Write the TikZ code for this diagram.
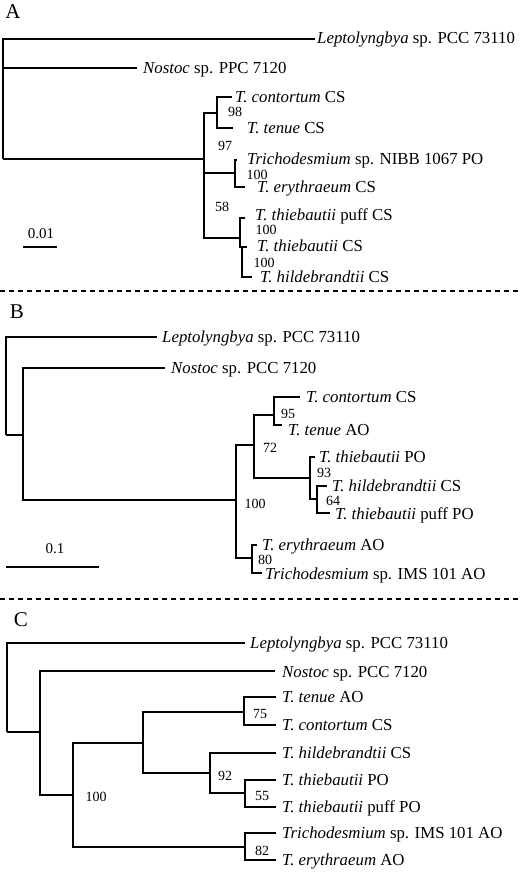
\documentclass[tikz,border=0pt]{standalone}
\usepackage{fontspec}
\setmainfont{Liberation Serif}
\begin{document}
\begin{tikzpicture}[x=1pt,y=-1pt,
  br/.style={line width=2.5pt, line join=miter},
  taxon/.style={anchor=west, inner sep=0pt, text height=11pt, text depth=0pt, font=\fontsize{16.8}{18}\selectfont},
  boot/.style={anchor=center, inner sep=0pt, text height=10pt, text depth=0pt, font=\fontsize{14}{16}\selectfont},
  panel/.style={anchor=center, inner sep=0pt, font=\fontsize{21}{24}\selectfont},
  scalelab/.style={anchor=center, inner sep=0pt, text height=10pt, text depth=0pt, font=\fontsize{15}{17}\selectfont},
  sep/.style={line width=1.4pt, dash pattern=on 5pt off 4pt}]
\useasboundingbox (0,0) rectangle (520,872);

% ---------- Panel A ----------
\node[panel] (lA) at (13,12) {A};
\coordinate (rA) at (3,159);
\coordinate (aLep) at (315,39);
\coordinate (aNos) at (137,68);
\coordinate (a1) at (204,159);
\coordinate (a2) at (217,113);
\coordinate (a3) at (235,173);
\coordinate (a4) at (240,238);
\coordinate (a5) at (242,247);
\coordinate (aCon) at (232,97);
\coordinate (aTen) at (233,128);
\coordinate (aNIBB) at (237,160);
\coordinate (aEry) at (245,187);
\coordinate (aPuff) at (245,218);
\coordinate (aThi) at (247,247);
\coordinate (aHil) at (252,277);
\draw[br] (rA) |- (aLep);
\draw[br] (rA) |- (aNos);
\draw[br] (rA) -- (a1);
\draw[br] (a1) |- (a2);
\draw[br] (a1) |- (a3);
\draw[br] (a1) |- (a4);
\draw[br] (a2) |- (aCon);
\draw[br] (a2) |- (aTen);
\draw[br] (a3) |- (aNIBB);
\draw[br] (a3) |- (aEry);
\draw[br] (a4) |- (aPuff);
\draw[br] (a4) |- (a5);
\draw[br] (a5) -- (aThi);
\draw[br] (a5) |- (aHil);
\node[taxon] (tALep) at (317,38) {\textit{Leptolyngbya} sp. PCC 73110};
\node[taxon] (tANos) at (143,68) {\textit{Nostoc} sp. PPC 7120};
\node[taxon] (tACon) at (235,97) {\textit{T. contortum} CS};
\node[taxon] (tATen) at (247,128) {\textit{T. tenue} CS};
\node[taxon] (tANIBB) at (247,159) {\textit{Trichodesmium} sp. NIBB 1067 PO};
\node[taxon] (tAEry) at (257,187) {\textit{T. erythraeum} CS};
\node[taxon] (tAPuff) at (255,215) {\textit{T. thiebautii} puff CS};
\node[taxon] (tAThi) at (257,246) {\textit{T. thiebautii} CS};
\node[taxon] (tAHil) at (260,277) {\textit{T. hildebrandtii} CS};
\node[boot] (bA1) at (235,112) {98};
\node[boot] (bA2) at (225,145) {97};
\node[boot] (bA3) at (257,174) {100};
\node[boot] (bA4) at (222,206) {58};
\node[boot] (bA5) at (266,229) {100};
\node[boot] (bA6) at (264,262) {100};
\coordinate (sA1) at (23,247);
\coordinate (sA2) at (57,247);
\draw[br] (sA1) -- (sA2);
\node[scalelab] (sAl) at (41,233) {0.01};

\coordinate (d1a) at (0,291);
\coordinate (d1b) at (520,291);
\draw[sep] (d1a) -- (d1b);

% ---------- Panel B ----------
\node[panel] (lB) at (17,312) {B};
\coordinate (rB) at (6,435);
\coordinate (bLep) at (157,337);
\coordinate (b1) at (23,435);
\coordinate (bNos) at (165,368);
\coordinate (b2) at (236,500);
\coordinate (b3) at (254,445);
\coordinate (b4) at (274,415);
\coordinate (b5) at (310,478);
\coordinate (b6) at (252,558);
\coordinate (b7) at (317,499);
\coordinate (bCon) at (300,397);
\coordinate (bTen) at (282,425);
\coordinate (bThiPO) at (315,457);
\coordinate (bHil) at (327,486);
\coordinate (bPuff) at (330,513);
\coordinate (bEry) at (257,545);
\coordinate (bIMS) at (262,573);
\draw[br] (rB) |- (bLep);
\draw[br] (rB) -- (b1);
\draw[br] (b1) |- (bNos);
\draw[br] (b1) |- (b2);
\draw[br] (b2) |- (b3);
\draw[br] (b2) |- (b6);
\draw[br] (b3) |- (b4);
\draw[br] (b3) |- (b5);
\draw[br] (b4) |- (bCon);
\draw[br] (b4) |- (bTen);
\draw[br] (b5) |- (bThiPO);
\draw[br] (b5) |- (b7);
\draw[br] (b7) |- (bHil);
\draw[br] (b7) |- (bPuff);
\draw[br] (b6) |- (bEry);
\draw[br] (b6) |- (bIMS);
\node[taxon] (tBLep) at (162,337) {\textit{Leptolyngbya} sp. PCC 73110};
\node[taxon] (tBNos) at (171,368) {\textit{Nostoc} sp. PCC 7120};
\node[taxon] (tBCon) at (306,397) {\textit{T. contortum} CS};
\node[taxon] (tBTen) at (288,430) {\textit{T. tenue} AO};
\node[taxon] (tBThiPO) at (319,457) {\textit{T. thiebautii} PO};
\node[taxon] (tBHil) at (332,486) {\textit{T. hildebrandtii} CS};
\node[taxon] (tBPuff) at (335,514) {\textit{T. thiebautii} puff PO};
\node[taxon] (tBEry) at (262,545) {\textit{T. erythraeum} AO};
\node[taxon] (tBIMS) at (265,574) {\textit{Trichodesmium} sp. IMS 101 AO};
\node[boot] (bB1) at (288,413) {95};
\node[boot] (bB2) at (270,447) {72};
\node[boot] (bB3) at (324,472) {93};
\node[boot] (bB4) at (333,500) {64};
\node[boot] (bB5) at (255,503) {100};
\node[boot] (bB6) at (265,559) {80};
\coordinate (sB1) at (6,567);
\coordinate (sB2) at (99,567);
\draw[br] (sB1) -- (sB2);
\node[scalelab] (sBl) at (55,548) {0.1};

\coordinate (d2a) at (0,599);
\coordinate (d2b) at (520,599);
\draw[sep] (d2a) -- (d2b);

% ---------- Panel C ----------
\node[panel] (lC) at (21,620) {C};
\coordinate (rC) at (7,732);
\coordinate (cLep) at (245,643);
\coordinate (c1) at (40,732);
\coordinate (cNos) at (275,671);
\coordinate (c2) at (73,795);
\coordinate (c3) at (143,743);
\coordinate (c4) at (244,712);
\coordinate (c5) at (210,773);
\coordinate (c6) at (245,847);
\coordinate (c7) at (245,793);
\coordinate (cTen) at (276,697);
\coordinate (cCon) at (276,725);
\coordinate (cHil) at (276,753);
\coordinate (cThiPO) at (276,780);
\coordinate (cPuff) at (276,807);
\coordinate (cIMS) at (276,833);
\coordinate (cEry) at (276,860);
\draw[br] (rC) |- (cLep);
\draw[br] (rC) -- (c1);
\draw[br] (c1) |- (cNos);
\draw[br] (c1) |- (c2);
\draw[br] (c2) |- (c3);
\draw[br] (c2) |- (c6);
\draw[br] (c3) |- (c4);
\draw[br] (c3) |- (c5);
\draw[br] (c4) |- (cTen);
\draw[br] (c4) |- (cCon);
\draw[br] (c5) |- (cHil);
\draw[br] (c5) |- (c7);
\draw[br] (c7) |- (cThiPO);
\draw[br] (c7) |- (cPuff);
\draw[br] (c6) |- (cIMS);
\draw[br] (c6) |- (cEry);
\node[taxon] (tCLep) at (250,643) {\textit{Leptolyngbya} sp. PCC 73110};
\node[taxon] (tCNos) at (282,672) {\textit{Nostoc} sp. PCC 7120};
\node[taxon] (tCTen) at (282,697) {\textit{T. tenue} AO};
\node[taxon] (tCCon) at (282,725) {\textit{T. contortum} CS};
\node[taxon] (tCHil) at (282,753) {\textit{T. hildebrandtii} CS};
\node[taxon] (tCThiPO) at (282,780) {\textit{T. thiebautii} PO};
\node[taxon] (tCPuff) at (282,807) {\textit{T. thiebautii} puff PO};
\node[taxon] (tCIMS) at (282,833) {\textit{Trichodesmium} sp. IMS 101 AO};
\node[taxon] (tCEry) at (282,860) {\textit{T. erythraeum} AO};
\node[boot] (bC1) at (260,713) {75};
\node[boot] (bC2) at (225,775) {92};
\node[boot] (bC3) at (262,795) {55};
\node[boot] (bC4) at (262,850) {82};
\node[boot] (bC5) at (96,796) {100};
\end{tikzpicture}
\end{document}
